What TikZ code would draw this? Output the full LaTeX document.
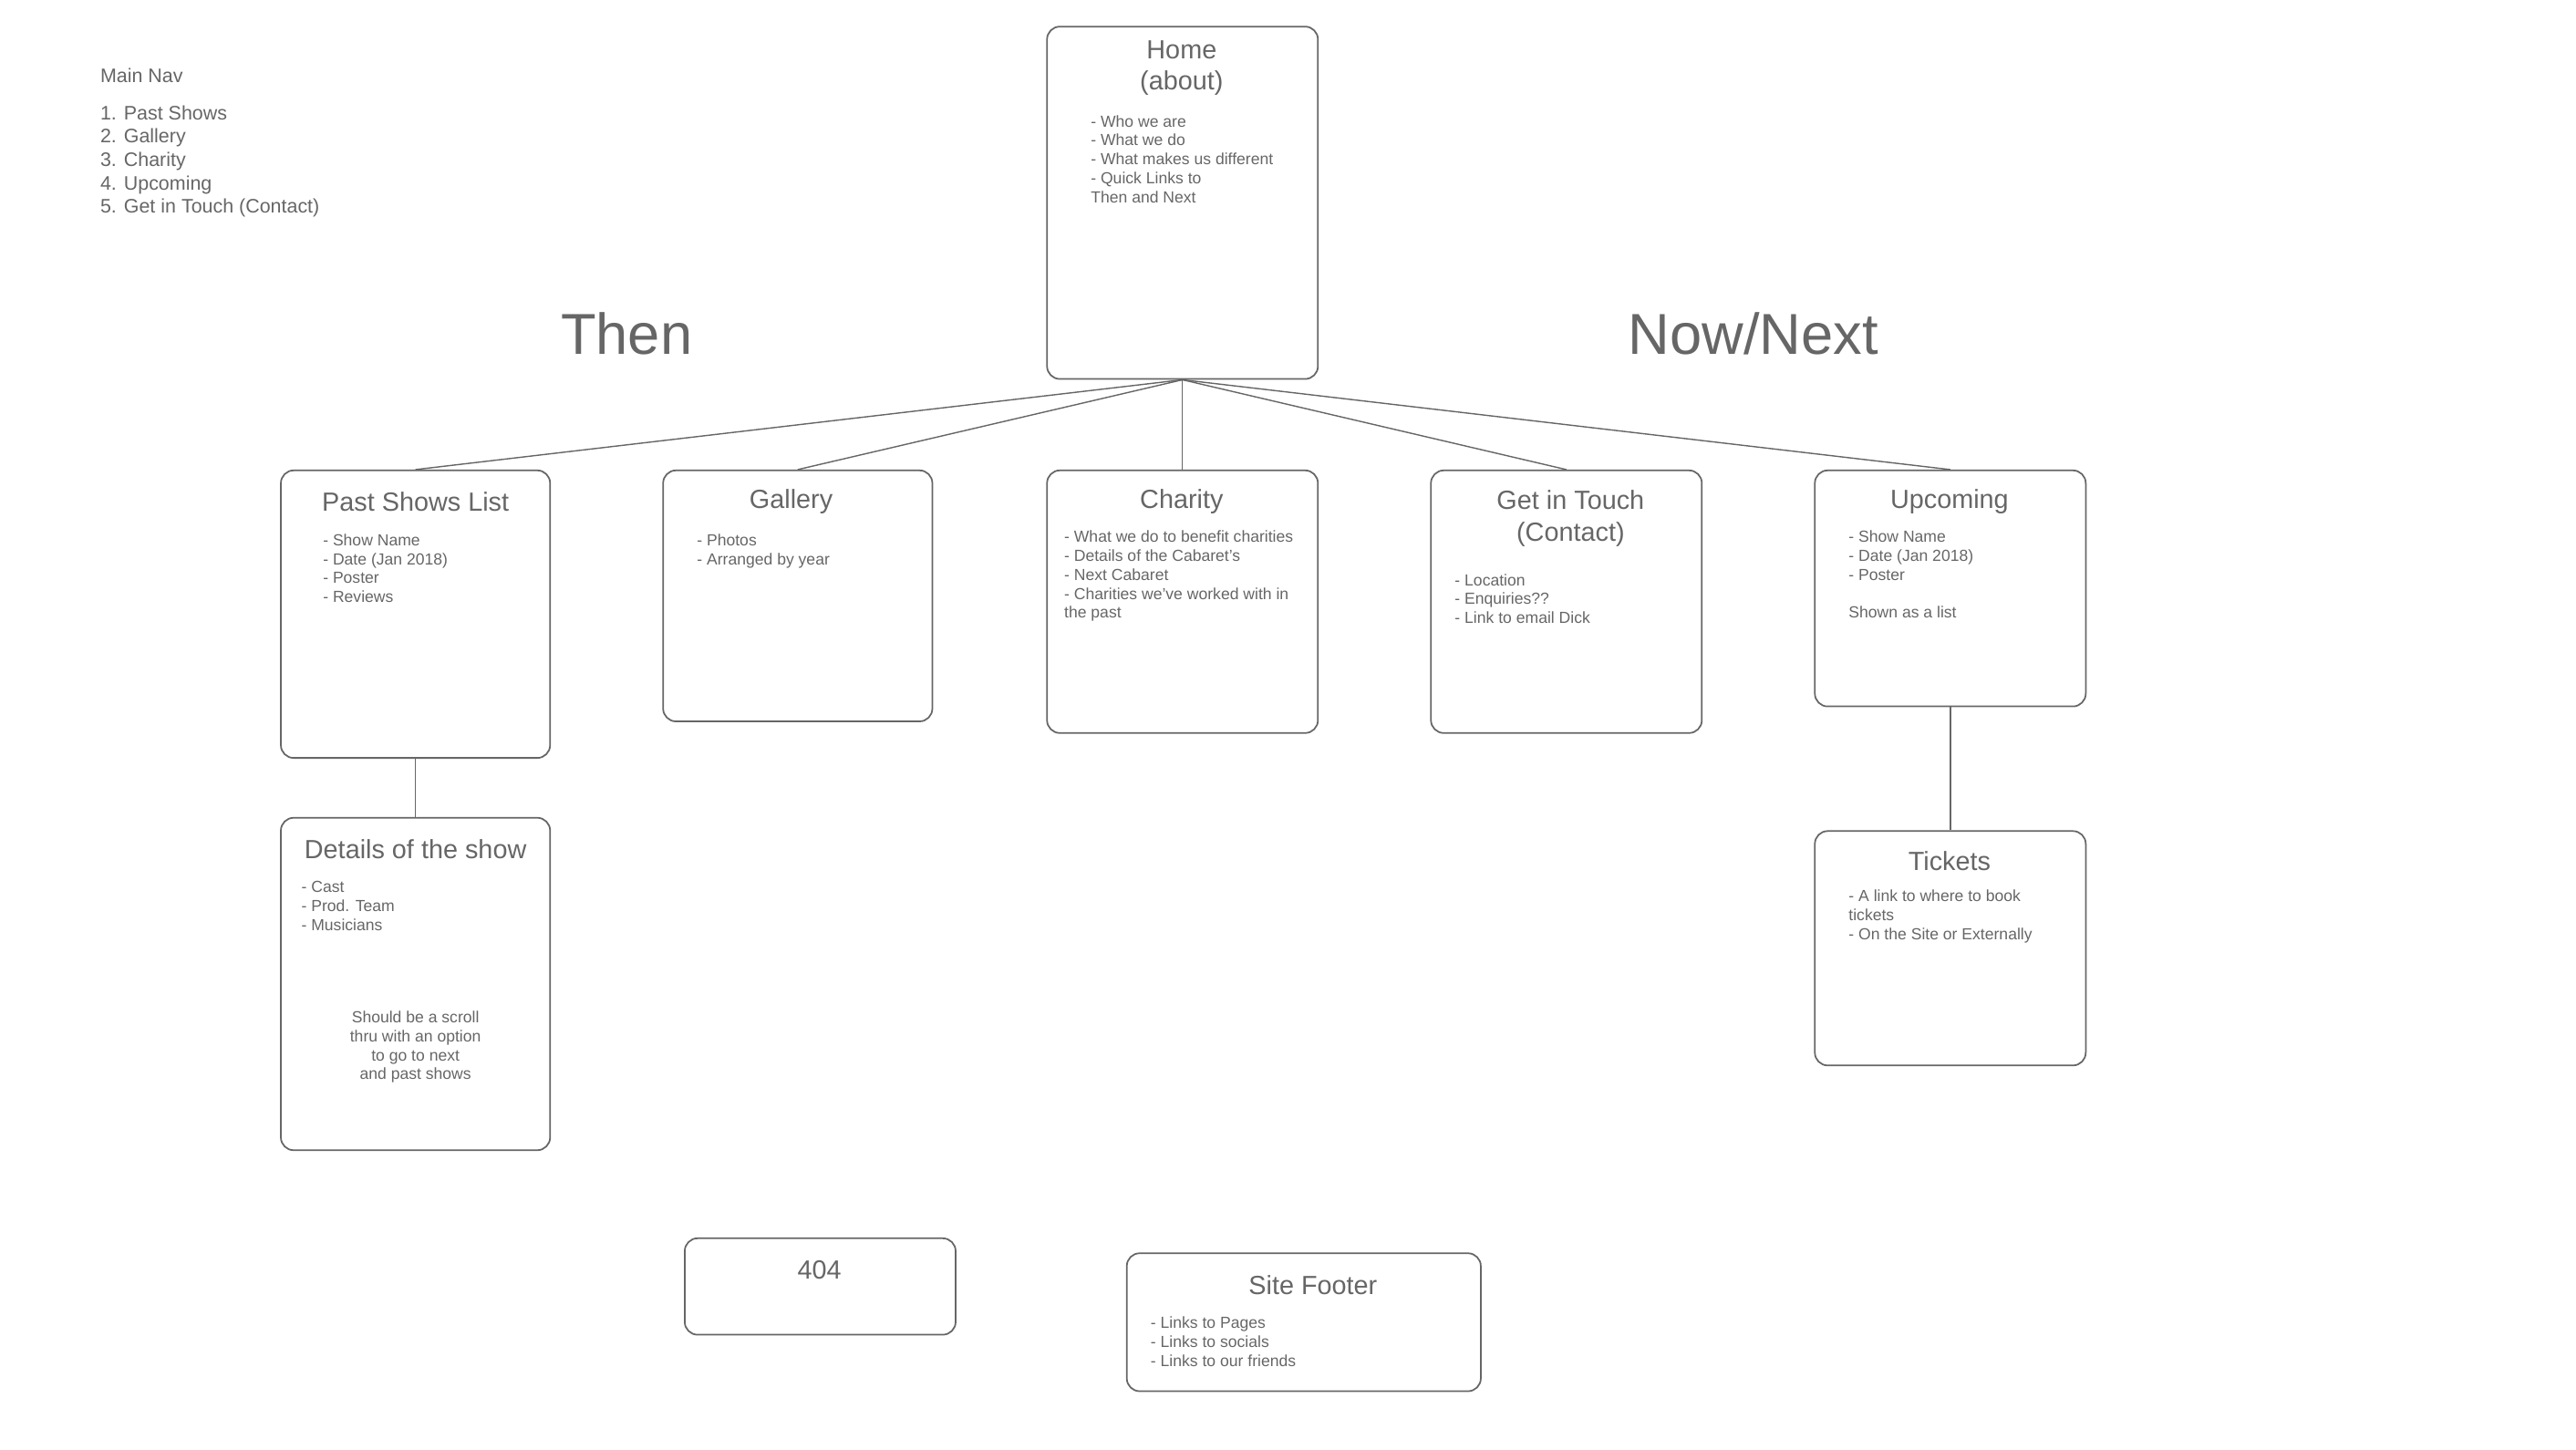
\documentclass[tikz,border=0pt]{standalone}
\usepackage{fontspec}
\setmainfont{Liberation Sans}
\usetikzlibrary{fit}
\definecolor{wiregray}{RGB}{102,102,102}

\begin{document}
\begin{tikzpicture}[x=0.18226mm, y=-0.18226mm, wiregray]
    \tikzset{page/.style={draw=wiregray, rounded corners=4pt, inner sep=0pt, line width=0.5pt},
             title/.style={font=\fontsize{8.2}{9.8}\selectfont, align=center, inner sep=0pt},
             notes/.style={font=\fontsize{5}{5.9}\selectfont, align=left, anchor=north west, inner sep=0pt},
             wire/.style={draw=wiregray, line width=0.4pt}}
    \useasboundingbox (0,0) rectangle (1550,872);

    % Main navigation
    \node [notes, font=\fontsize{6.1}{7.3}\selectfont] (nav_head) at (60,41) {Main Nav};
    \node [notes, font=\fontsize{6.1}{7.3}\selectfont] (nav_list) at (60,63) {1. Past Shows\\2. Gallery\\3. Charity\\4. Upcoming\\5. Get in Touch (Contact)};

    % Section headings
    \node [font=\fontsize{18}{20}\selectfont] (then_head) at (377,201) {Then};
    \node [font=\fontsize{18}{20}\selectfont] (next_head) at (1055,201) {Now/Next};

    % Home page
    \node [page, fit={(630,16) (793,228)}] (home) {};
    \node [title] (home_title) at (711,41) {Home\\(about)};
    \node [notes] (home_notes) at (656,69) {- Who we are\\- What we do\\- What makes us different\\- Quick Links to\\Then and Next};

    % Top level pages
    \node [page, fit={(169,283) (331,456)}] (past) {};
    \node [title] at (250,302) {Past Shows List};
    \node [notes] at (194,321) {- Show Name\\- Date (Jan 2018)\\- Poster\\- Reviews};

    \node [page, fit={(399,283) (561,434)}] (gallery) {};
    \node [title] at (476,302) {Gallery};
    \node [notes] at (419,321) {- Photos\\- Arranged by year};

    \node [page, fit={(630,283) (793,441)}] (charity) {};
    \node [title] at (711,302) {Charity};
    \node [notes] at (640,319) {- What we do to benefit charities\\- Details of the Cabaret's\\- Next Cabaret\\- Charities we've worked with in\\the past};

    \node [page, fit={(861,283) (1024,441)}] (contact) {};
    \node [title] at (945,312) {Get in Touch\\(Contact)};
    \node [notes] at (875,345) {- Location\\- Enquiries??\\- Link to email Dick};

    \node [page, fit={(1092,283) (1255,425)}] (upcoming) {};
    \node [title] at (1173,302) {Upcoming};
    \node [notes] at (1112,319) {- Show Name\\- Date (Jan 2018)\\- Poster\\[5.9pt]Shown as a list};

    % Sub pages
    \node [page, fit={(169,492) (331,692)}] (details) {};
    \node [title] at (250,511) {Details of the show};
    \node [notes] at (181,530) {- Cast\\- Prod. Team\\- Musicians};
    \node [notes, align=center, anchor=north] at (250,608) {Should be a scroll\\thru with an option\\to go to next\\and past shows};

    \node [page, fit={(1092,500) (1255,641)}] (tickets) {};
    \node [title] at (1173,518) {Tickets};
    \node [notes] at (1112,535) {- A link to where to book\\tickets\\- On the Site or Externally};

    % Other pages
    \node [page, fit={(412,745) (575,803)}] (notfound) {};
    \node [title] at (493,764) {404};

    \node [page, fit={(678,754) (891,837)}] (footer) {};
    \node [title] at (790,773) {Site Footer};
    \node [notes] at (692,792) {- Links to Pages\\- Links to socials\\- Links to our friends};

    % Links between pages
    \foreach \target in {past, gallery, charity, contact, upcoming}
        \draw [wire] (home.south) -- (\target.north);
    \draw [wire] (past) -- (details);
    \draw [wire] (upcoming) -- (tickets);
\end{tikzpicture}
\end{document}
